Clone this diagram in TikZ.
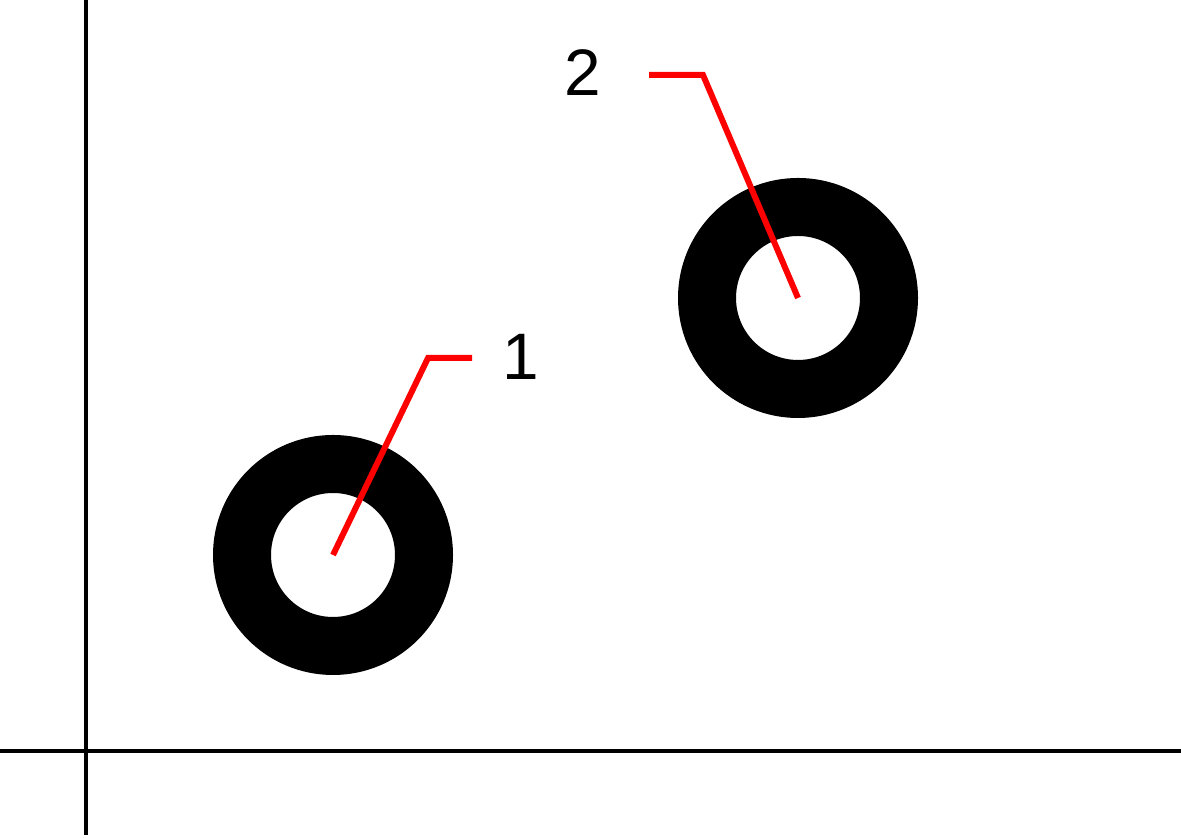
\documentclass[tikz,border=0pt]{standalone}
\usepackage{fontspec}
\setmainfont{Liberation Sans}
\usetikzlibrary{positioning, calc}

\begin{document}
\begin{tikzpicture}[
		ring/.style={circle, draw, line width=0.58cm, minimum size=1.82cm, inner sep=0pt},
		leader/.style={red, line width=1.7pt},
		axis/.style={black, line width=0.95pt},
		num/.style={font=\fontsize{18.7}{20}\selectfont, inner sep=0pt}]
			\useasboundingbox (0,0) rectangle (11.81,8.38);
			% Define the axes
			\coordinate (xleft) at (0,0.87);
			\coordinate (xright) at (11.81,0.87);
			\coordinate (ytop) at (0.86,8.38);
			\coordinate (ybottom) at (0.86,0.03);
			% Define the rings
			\node (ring1) [ring] at (3.33,2.83) {};
			\node (ring2) [ring] at (7.98,5.40) {};
			% Define the labels
			\node (lab1) [num] at (5.21,4.81) {1};
			\node (lab2) [num] at (5.83,7.65) {2};
			\coordinate (bend1) at (4.28,4.80);
			\coordinate (end1) at (4.72,4.80);
			\coordinate (bend2) at (7.03,7.63);
			\coordinate (end2) at (6.49,7.63);
			% Connect the nodes
			\draw [axis] (xleft) -- (xright);
			\draw [axis] (ytop) -- (ybottom);
			\draw [leader] (ring1.center) -- (bend1) -- (end1);
			\draw [leader] (ring2.center) -- (bend2) -- (end2);
		\end{tikzpicture}
\end{document}
